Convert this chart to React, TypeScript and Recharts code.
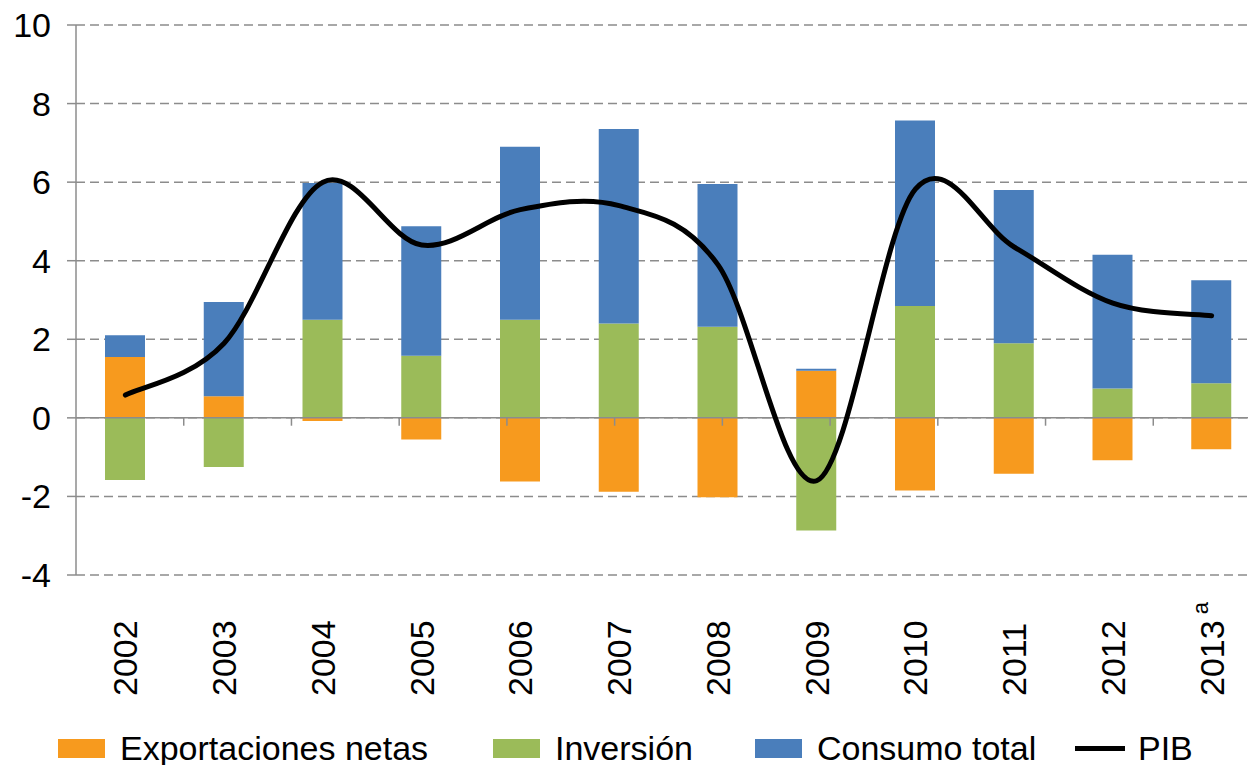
import React from "react";
import {
  Bar,
  CartesianGrid,
  ComposedChart,
  Line,
  ReferenceLine,
  XAxis,
  YAxis,
} from "recharts";

const YEARS = ["2002", "2003", "2004", "2005", "2006", "2007", "2008", "2009", "2010", "2011", "2012", "2013"];
const EXPORTACIONES = [1.55, 0.55, -0.08, -0.55, -1.62, -1.88, -2.02, 1.2, -1.85, -1.42, -1.08, -0.8];
const INVERSION = [-1.58, -1.25, 2.5, 1.58, 2.5, 2.4, 2.32, -2.87, 2.85, 1.9, 0.75, 0.88];
const CONSUMO = [0.55, 2.4, 3.48, 3.3, 4.4, 4.95, 3.63, 0.05, 4.72, 3.9, 3.4, 2.62];
const PIB = [0.58, 1.9, 6.0, 4.4, 5.3, 5.4, 3.9, -1.6, 5.82, 4.35, 2.92, 2.6];
const Y_TICKS = [-4, -2, 0, 2, 4, 6, 8, 10];
const BOUNDARIES = [1, 2, 3, 4, 5, 6, 7, 8, 9, 10, 11];

const ORANGE = "#F79A1E";
const GREEN = "#9BBB59";
const BLUE = "#4A7EBB";
const AXIS = "#8c8c8c";

const data = YEARS.map((year, i) => ({
  year,
  exp: EXPORTACIONES[i],
  inv: INVERSION[i],
  con: CONSUMO[i],
  pib: PIB[i],
}));

// Excel-style smoothed line (Catmull-Rom through the points)
const excelSmooth = (context: any) => {
  let pts: number[][] = [];
  return {
    areaStart() {},
    areaEnd() {},
    lineStart() {
      pts = [];
    },
    point(x: number, y: number) {
      pts.push([+x, +y]);
    },
    lineEnd() {
      const n = pts.length;
      if (!n) return;
      context.moveTo(pts[0][0], pts[0][1]);
      for (let i = 0; i < n - 1; i++) {
        const p0 = pts[i - 1] || pts[i];
        const p1 = pts[i];
        const p2 = pts[i + 1];
        const p3 = pts[i + 2] || p2;
        context.bezierCurveTo(
          p1[0] + (p2[0] - p0[0]) / 6,
          p1[1] + (p2[1] - p0[1]) / 6,
          p2[0] - (p3[0] - p1[0]) / 6,
          p2[1] - (p3[1] - p1[1]) / 6,
          p2[0],
          p2[1]
        );
      }
    },
  };
};

function YearTick({ x, y, payload }: any) {
  const last = payload.value === "2013";
  return (
    <g transform={`translate(${x},${y + 121}) rotate(-90)`}>
      <text x={0} y={0} textAnchor="start" dominantBaseline="central" fontSize={34} fill="#000">
        {payload.value}
        {last && (
          <tspan fontSize={22} dy={-12}>
            {" a"}
          </tspan>
        )}
      </text>
    </g>
  );
}

const LEGEND = [
  { label: "Exportaciones netas", color: ORANGE, left: 58, line: false },
  { label: "Inversión", color: GREEN, left: 493, line: false },
  { label: "Consumo total", color: BLUE, left: 755, line: false },
  { label: "PIB", color: "#000", left: 1075, line: true },
];

export default function App() {
  return (
    <div
      style={{
        position: "fixed",
        left: 0,
        top: 0,
        width: 1248,
        height: 765,
        overflow: "hidden",
        background: "#fff",
        fontFamily: "'Liberation Sans', Arial, sans-serif",
      }}
    >
      <ComposedChart
        width={1290}
        height={765}
        data={data}
        stackOffset="sign"
        margin={{ top: 25, right: 29, left: 0, bottom: 60 }}
      >
        <CartesianGrid vertical={false} stroke={AXIS} strokeWidth={1.5} strokeDasharray="9 5" />
        <XAxis
          dataKey="year"
          height={130}
          axisLine={false}
          tickLine={false}
          tickSize={0}
          tickMargin={0}
          interval={0}
          tick={<YearTick />}
        />
        <XAxis xAxisId="b" type="number" domain={[0, 12]} hide />
        <YAxis
          width={76}
          domain={[-4, 10]}
          ticks={Y_TICKS}
          interval={0}
          axisLine={{ stroke: AXIS, strokeWidth: 1.5 }}
          tickLine={{ stroke: AXIS, strokeWidth: 1.5 }}
          tickSize={9}
          tickMargin={16}
          tick={{ fill: "#000", fontSize: 34 }}
        />
        <Bar dataKey="exp" stackId="s" fill={ORANGE} barSize={40} isAnimationActive={false} />
        <Bar dataKey="inv" stackId="s" fill={GREEN} barSize={40} isAnimationActive={false} />
        <Bar dataKey="con" stackId="s" fill={BLUE} barSize={40} isAnimationActive={false} />
        <ReferenceLine y={0} stroke={AXIS} strokeWidth={1.5} />
        {BOUNDARIES.map((b) => (
          <ReferenceLine
            key={b}
            xAxisId="b"
            segment={[
              { x: b, y: 0 },
              { x: b, y: -0.2 },
            ]}
            stroke={AXIS}
            strokeWidth={1.5}
            ifOverflow="visible"
          />
        ))}
        <Line
          dataKey="pib"
          type={excelSmooth as any}
          stroke="#000"
          strokeWidth={5}
          strokeLinecap="round"
          dot={false}
          isAnimationActive={false}
        />
      </ComposedChart>
      {LEGEND.map((item) => (
        <div
          key={item.label}
          style={{
            position: "absolute",
            left: item.left,
            top: 728,
            height: 40,
            display: "flex",
            alignItems: "center",
            fontSize: 34,
            color: "#000",
            whiteSpace: "nowrap",
          }}
        >
          {item.line ? (
            <span style={{ display: "inline-block", width: 50, height: 5, background: item.color, marginRight: 13 }} />
          ) : (
            <span style={{ display: "inline-block", width: 47, height: 19, background: item.color, marginRight: 15 }} />
          )}
          <span>{item.label}</span>
        </div>
      ))}
    </div>
  );
}
